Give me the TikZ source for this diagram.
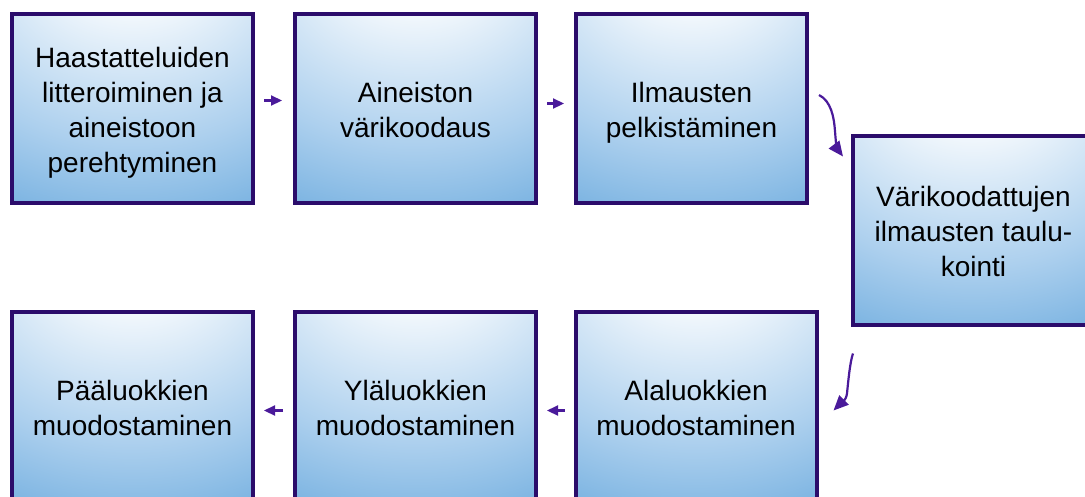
\documentclass[tikz,border=0pt]{standalone}
\usepackage{fontspec}
\setmainfont{Liberation Sans}
\usetikzlibrary{arrows.meta,calc}
\definecolor{boxline}{HTML}{2B0C6B}
\definecolor{arrowc}{HTML}{4A1A9A}
\definecolor{shA}{HTML}{FFFFFF}
\definecolor{shB}{HTML}{ADD0EE}
\definecolor{shC}{HTML}{62A5DB}
\definecolor{shD}{HTML}{5298D5}
\pgfdeclareradialshading{boxshade}{\pgfpoint{0bp}{48bp}}{color(0bp)=(shA); color(12bp)=(shA); color(42bp)=(shB); color(66bp)=(shC); color(80bp)=(shD); color(130bp)=(shD)}
\newcommand{\boxtext}[1]{\raisebox{-4pt}[\height][\depth]{\begin{tabular}{@{}c@{}}#1\end{tabular}}}
\tikzset{
  stepbox/.style={draw=boxline, line width=4pt, shading=boxshade, rectangle, inner sep=0pt,
    minimum width=241pt, minimum height=189pt, align=center,
    font=\fontsize{28}{35}\selectfont},
  flow/.style={draw=arrowc, line width=2.2pt, -{Triangle[length=11pt,width=10pt]}},
  bigflow/.style={draw=arrowc, line width=2.2pt, -{Triangle[length=15pt,width=13pt]}},
}
\begin{document}
\begin{tikzpicture}[x=1pt,y=1pt]
\useasboundingbox (0,0) rectangle (1085,-496);
\clip (0,0) rectangle (1085,-496);
\node[stepbox] (b1) at (132.5,-108.5) {\boxtext{Haastatteluiden\\litteroiminen ja\\aineistoon\\perehtyminen}};
\node[stepbox] (b2) at (415.5,-108.5) {\boxtext{Aineiston\\värikoodaus}};
\node[stepbox, minimum width=231pt] (b3) at (691.5,-108.5) {\boxtext{Ilmausten\\pelkistäminen}};
\node[stepbox] (b4) at (973.5,-230) {\boxtext{Värikoodattujen\\ilmausten taulu-\\kointi}};
\node[stepbox] (b5) at (696,-406.5) {\boxtext{Alaluokkien\\muodostaminen}};
\node[stepbox] (b6) at (415.5,-406.5) {\boxtext{Yläluokkien\\muodostaminen}};
\node[stepbox] (b7) at (132.5,-406.5) {\boxtext{Pääluokkien\\muodostaminen}};
\coordinate (c1s) at ($(b3.north east)+(10,-83)$);
\coordinate (c1e) at ($(b4.north west)+(-8,-23)$);
\coordinate (c2s) at ($(b4.south west)+(2,-27)$);
\coordinate (c2e) at ($(b5.east)+(15,-4)$);
\draw[flow, shorten <=9pt, shorten >=11pt] ([yshift=8pt]b1.east) -- ([yshift=8pt]b2.west);
\draw[flow, shorten <=9pt, shorten >=10pt] ([yshift=5pt]b2.east) -- ([yshift=5pt]b3.west);
\draw[flow, shorten <=9pt, shorten >=9pt] ([yshift=-4pt]b5.west) -- ([yshift=-4pt]b6.east);
\draw[flow, shorten <=10pt, shorten >=9pt] ([yshift=-4pt]b6.west) -- ([yshift=-4pt]b7.east);
\draw[bigflow] (c1s) .. controls +(12,-6) and +(-1,14) .. ($(c1s)+(16,-36)$) .. controls +(1,-14) and +(-6,8) .. (c1e);
\draw[bigflow] (c2s) .. controls +(-3,-8) and +(1,10) .. ($(c2s)+(-6,-40)$) .. controls +(-1,-8) and +(6,6) .. (c2e);
\end{tikzpicture}
\end{document}
